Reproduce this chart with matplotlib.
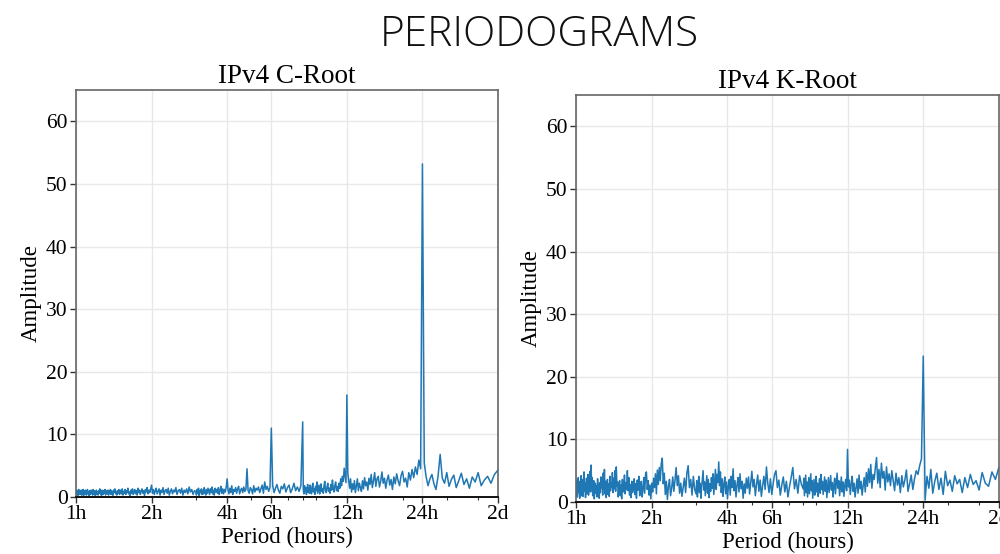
import numpy as np
import matplotlib
matplotlib.use("Agg")
import matplotlib.pyplot as plt
from matplotlib.ticker import FixedLocator, FixedFormatter, LogLocator, NullFormatter

# periodogram amplitudes, ordered from short to long period
# short: 1h .. 3h, mid: 3h .. 8h, long: 8h .. 2d
c_root_short = [
    0.8, 0.3, 1.1, 0.5, 0.9, 0.2, 1.2, 0.6, 1.0, 0.4, 0.7, 1.1, 0.3, 0.9, 0.5, 1.2, 0.2, 0.8, 1.0, 0.4,
    1.1, 0.6, 0.3, 0.9, 1.2, 0.5, 0.8, 0.2, 1.0, 0.7, 0.4, 1.1, 0.6, 0.9, 0.3, 1.2, 0.5, 1.0, 0.7, 0.2,
    0.9, 1.1, 0.4, 0.8, 0.3, 1.0, 0.6, 1.3, 0.5, 0.9, 0.2, 1.1, 0.7, 0.4, 1.0, 0.6, 1.2, 0.3, 0.8, 1.0,
    0.5, 1.1, 0.3, 0.9, 0.7, 1.2, 0.4, 1.0, 0.6, 0.2, 1.1, 0.8, 1.3, 0.5, 0.9, 0.3, 1.0, 0.6, 1.2, 0.4,
    0.8, 1.1, 0.5, 1.3, 0.3, 0.9, 0.6, 1.2, 0.4, 1.0, 0.7, 1.4, 0.5, 0.8, 0.2, 1.1, 0.6, 1.3, 0.4, 0.9,
    1.2, 0.5, 1.0, 0.3, 1.4, 0.7, 1.1, 0.4, 0.9, 1.3, 0.6, 1.0, 0.2, 1.2, 0.8, 1.5, 0.5, 1.1, 0.7, 1.3,
    1.9, 0.6, 1.2, 0.4, 1.0, 1.4, 0.5, 0.9, 1.3, 0.3, 1.1, 0.7, 1.5, 0.4, 1.0, 1.2, 0.6, 1.4, 0.3, 0.9,
    1.3, 0.5, 1.1, 0.8, 1.5, 0.4, 1.0, 1.2, 0.6, 1.4, 0.3, 1.1, 0.7, 1.3, 0.5, 1.6, 0.8, 1.2, 0.4, 1.0,
]
c_root_mid = [
    0.9, 0.3, 1.2, 0.6, 1.4, 0.2, 1.0, 0.7, 1.3, 0.4,
    1.1, 0.5, 1.5, 0.8, 0.3, 1.2, 0.6, 1.4, 0.9, 0.4,
    1.3, 0.7, 1.6, 0.5, 1.1, 0.3, 1.4, 0.8, 1.2, 0.6,
    1.5, 0.4, 1.0, 1.7, 0.6, 1.3, 0.5, 1.2, 0.8, 1.6,
    2.9, 1.1, 0.5, 1.4, 0.7, 1.8, 0.4, 1.2, 0.9, 1.5,
    0.6, 1.3, 1.7, 0.5, 1.1, 1.4, 0.7, 1.6, 0.9, 1.2,
    4.5, 1.0, 0.6, 1.5, 1.2, 0.5, 1.8, 0.8, 1.4, 1.1,
    1.6, 0.7, 1.3, 1.9, 0.6, 2.4, 1.2, 1.7, 0.9, 1.5,
    11.0, 1.8, 0.7, 1.4, 2.0, 1.1, 0.6, 1.7, 1.3, 2.1,
    0.8, 1.5, 1.9, 0.7, 1.3, 2.2, 1.0, 1.6, 0.9, 1.8,
]
c_root_long = [
    12.0, 1.2, 0.5, 1.8, 0.9, 1.5, 0.4, 1.1, 2.0, 0.7,
    1.4, 0.6, 1.9, 1.0, 0.5, 1.6, 2.2, 0.8, 1.3, 0.4,
    1.7, 1.0, 2.4, 0.6, 1.2, 1.9, 0.5, 1.5, 2.1, 0.9,
    1.3, 0.6, 1.8, 2.5, 1.0, 0.7, 1.6, 2.2, 0.9, 1.4,
    0.6, 2.0, 1.1, 2.7, 1.3, 0.8, 1.9, 2.4, 1.0, 1.7,
    0.9, 2.2, 1.4, 2.9, 1.8, 3.3, 2.5, 4.6, 3.4, 2.3,
    16.3, 3.8, 2.6, 1.4, 2.9, 0.8, 2.1, 1.2, 2.6, 0.7,
    1.8, 2.9, 1.0, 2.2, 1.5, 0.9, 2.6, 1.3, 3.1, 1.8,
    2.4, 1.1, 3.0, 2.0, 3.6, 1.5, 2.6, 3.9, 1.7, 2.9,
    3.3, 1.6, 2.5, 4.0, 2.2, 3.0, 1.4, 2.7, 3.5, 1.9,
    2.8, 1.2, 3.2, 2.1, 3.7, 2.6, 1.8, 3.4, 4.1, 2.4,
    3.0, 1.6, 3.9, 2.7, 4.4, 3.1, 4.8, 3.6, 5.9, 4.5,
    53.2, 5.4, 3.2, 1.8, 2.9, 3.6, 2.1, 1.2, 3.3, 6.8,
    3.0, 2.2, 3.9, 1.7, 2.8, 3.5, 1.5, 2.6, 3.8, 2.0,
    2.9, 1.4, 3.2, 2.4, 3.9, 1.8, 2.7, 3.3, 2.2, 3.6,
    4.3,
]

k_root_short = [
    2.8, 1.2, 3.5, 0.8, 2.4, 3.9, 1.5, 2.9, 0.6, 3.3, 1.8, 4.2, 1.0, 2.6, 3.6, 0.9, 2.2, 4.8, 1.7, 3.0,
    0.7, 2.5, 3.8, 1.3, 2.0, 4.4, 1.1, 3.2, 2.3, 4.9, 1.6, 5.9, 2.7, 3.9, 1.0, 2.4, 3.4, 0.5, 2.1, 3.0,
    1.4, 2.6, 0.8, 3.7, 1.9, 2.8, 0.6, 3.1, 1.5, 4.0, 2.2, 3.5, 1.1, 4.6, 2.0, 5.2, 1.3, 3.3, 0.7, 2.5,
    3.6, 1.2, 2.9, 0.9, 4.1, 1.8, 3.0, 2.4, 4.7, 1.5, 3.8, 2.1, 5.0, 1.7, 5.6, 2.6, 3.2, 0.8, 2.3, 3.4,
    1.0, 2.7, 0.5, 3.6, 1.6, 2.2, 4.3, 1.3, 3.1, 2.0, 5.0, 1.8, 3.9, 1.1, 2.8, 0.7, 3.3, 1.5, 2.4, 3.7,
    1.2, 2.9, 0.6, 3.5, 1.9, 4.1, 1.0, 2.6, 3.3, 0.8, 2.1, 3.9, 1.4, 4.4, 4.8, 2.0, 3.4, 1.1, 2.7, 0.5,
    3.0, 1.6, 3.8, 2.3, 4.5, 1.3, 5.1, 2.8, 5.5, 3.4, 6.1, 7.0, 2.9, 4.6, 1.2, 3.3, 0.4, 2.5, 3.6, 1.0,
    2.2, 4.0, 1.7, 3.5, 5.5, 2.6, 4.2, 1.4, 3.0, 0.9, 2.4, 3.8, 1.5, 4.6, 5.8, 2.3, 3.6, 1.1, 4.1, 2.0,
]
k_root_mid = [
    1.3, 3.4, 0.8, 2.7, 4.1, 1.5, 3.0, 0.6, 2.4, 3.8, 5.0, 1.9, 3.2, 1.0, 2.6, 4.2, 1.4, 3.6, 0.7, 2.9,
    1.7, 3.9, 2.2, 4.5, 1.2, 3.3, 5.2, 2.0, 4.4, 3.1, 6.4, 2.6, 4.8, 1.5, 3.7, 0.9, 2.8, 4.0, 1.3, 3.2,
    0.5, 2.5, 3.6, 1.1, 4.1, 2.3, 5.3, 1.8, 3.4, 0.8, 2.7, 3.9, 1.6, 4.5, 2.1, 3.3, 0.6, 2.9, 1.4, 3.8,
    2.2, 4.0, 1.3, 3.1, 4.9, 2.4, 3.6, 1.0, 2.8, 4.3, 1.7, 3.5, 0.9, 2.6, 4.1, 2.0, 5.6, 3.0, 1.5, 3.7,
    1.2, 2.9, 4.4, 5.0, 2.3, 3.5, 1.1, 2.7, 4.0, 1.6, 3.3, 0.8, 2.5, 3.9, 5.5, 2.1, 3.6, 1.4, 4.2, 2.8,
]
k_root_long = [
    2.1, 3.8, 1.0, 2.6, 4.3, 1.5, 3.2, 0.8, 2.4, 3.9, 1.3, 2.9, 4.5, 1.8, 3.4, 0.6, 2.2, 3.6, 1.1, 2.8,
    4.1, 1.6, 3.0, 0.9, 2.5, 3.7, 1.4, 4.4, 2.0, 3.3, 1.2, 2.7, 4.0, 1.7, 3.5, 0.7, 2.3, 3.9, 1.5, 2.8,
    4.2, 1.9, 3.1, 0.8, 2.6, 3.8, 1.3, 2.9, 4.6, 2.2, 3.4, 1.0, 2.5, 4.0, 1.6, 3.2, 0.9, 2.7, 3.6, 1.8,
    8.4, 2.4, 3.5, 1.2, 2.8, 4.1, 1.7, 3.0, 0.8, 2.3, 3.7, 1.4, 4.3, 2.1, 3.3, 1.1, 2.6, 3.9, 1.6, 4.7,
    2.5, 5.3, 3.1, 6.0, 2.2, 4.4, 3.6, 5.5, 7.1, 3.0, 5.2, 2.3, 6.2, 3.8, 4.9, 1.9, 5.6, 3.2, 4.5, 2.6,
    5.0, 3.4, 1.8, 4.6, 2.7, 3.9, 1.5, 4.2, 2.4, 3.5, 5.1, 1.7, 2.9, 4.3, 2.0, 3.7, 5.0, 4.4, 5.8, 6.9,
    23.3, 0.3, 4.1, 2.2, 5.2, 1.4, 3.3, 4.6, 2.0, 3.8, 1.2, 4.9, 2.6, 3.5, 1.7, 4.2, 2.9, 3.6, 1.5, 3.9,
    2.3, 4.4, 2.8, 3.4, 1.9, 4.7, 3.0, 2.5, 4.8, 3.6, 5.6,
]

# frequency grids (cycles per window) turned into periods in hours
short_hours = 240 / np.arange(240, 80, -1)
mid_hours = 480 / np.arange(160, 60, -1)
long_hours = 1440 / np.arange(180, 29, -1)

tick_hours = [1, 2, 4, 6, 12, 24, 48]
tick_labels = ['1h', '2h', '4h', '6h', '12h', '24h', '2d']
titles = ['IPv4 C-Root', 'IPv4 K-Root']


def draw_panel(ax, amps, title):
    hours = np.concatenate([short_hours, mid_hours, long_hours])
    ax.plot(hours, amps, color='#1f77b4', lw=1.1)
    ax.set_xscale('log')
    ax.set_xlim(1, 48)
    ax.set_ylim(0, 65)
    ax.xaxis.set_major_locator(FixedLocator(tick_hours))
    ax.xaxis.set_major_formatter(FixedFormatter(tick_labels))
    ax.xaxis.set_minor_locator(LogLocator(base=10, subs=np.arange(2, 10)))
    ax.xaxis.set_minor_formatter(NullFormatter())
    ax.set_yticks([0, 10, 20, 30, 40, 50, 60])
    ax.grid(True, which='major', color='#e8e8e8', lw=1.0)
    ax.set_axisbelow(True)
    ax.tick_params(axis='both', which='major', labelsize=15.5, length=4, width=1, pad=2, color='#333333')
    ax.tick_params(axis='x', which='minor', length=2.5, width=0.8, color='#333333')
    for side in ['left', 'top', 'right']:
        ax.spines[side].set_color('#666666')
        ax.spines[side].set_linewidth(1.2)
    ax.spines['bottom'].set_color('#111111')
    ax.spines['bottom'].set_linewidth(1.4)
    ax.set_title(title, fontsize=19.5, pad=5)
    ax.set_xlabel('Period (hours)', fontsize=16.5, labelpad=2)
    ax.set_ylabel('Amplitude', fontsize=16.5, labelpad=3)


def main():
    plt.rcParams['font.family'] = ['Liberation Serif', 'DejaVu Serif']
    fig = plt.figure(figsize=(10, 5.54), dpi=100)
    ax1 = fig.add_axes([0.076, 0.1029, 0.422, 0.7346])
    ax2 = fig.add_axes([0.576, 0.0939, 0.423, 0.7346])

    draw_panel(ax1, c_root_short + c_root_mid + c_root_long, titles[0])
    draw_panel(ax2, k_root_short + k_root_mid + k_root_long, titles[1])

    fig.text(0.539, 1 - 46 / 554, 'PERIODOGRAMS', ha='center', va='baseline',
             fontsize=30.5, family=['Open Sans', 'Lato', 'DejaVu Sans'], fontweight='light',
             color='#111111')

    fig.savefig('out.png', dpi=100)


if __name__ == '__main__':
    main()
